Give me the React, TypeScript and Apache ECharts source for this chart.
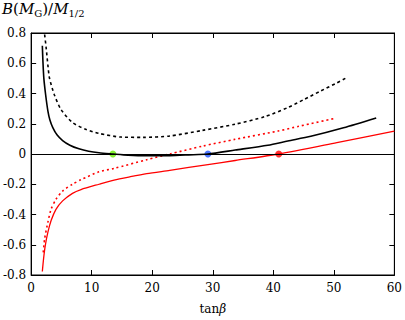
import React, { useEffect, useRef } from "react";
import * as echarts from "echarts";

// Solid black curve
const blackSolidX = [1.85, 1.95, 2.1, 2.4, 2.77, 3.1, 3.58, 4.3, 5.2, 6.4, 7.9, 9.5, 11.2, 13.5, 16, 19, 22.9, 26, 29.2, 33.7, 39.1, 42.4, 46.2, 51.6, 57];
const blackSolidY = [0.716, 0.61, 0.50, 0.39, 0.284, 0.225, 0.175, 0.125, 0.089, 0.058, 0.034, 0.018, 0.008, 0, -0.008, -0.012, -0.011, -0.006, 0, 0.026, 0.058, 0.086, 0.117, 0.173, 0.238];

// Dashed black curve
const blackDashX = [2.23, 2.5, 2.77, 3.04, 3.85, 4.94, 6.83, 9.0, 11.2, 14.8, 18.5, 22.9, 28.3, 33.7, 38.6, 42.4, 45.1, 47.8, 50.5, 51.9];
const blackDashY = [0.79, 0.695, 0.586, 0.50, 0.39, 0.294, 0.208, 0.164, 0.136, 0.112, 0.11, 0.119, 0.156, 0.197, 0.247, 0.307, 0.361, 0.416, 0.47, 0.50];

// Dotted red curve
const redDashX = [2.0, 2.23, 2.77, 3.3, 4.1, 5.2, 6.83, 8.24, 11.2, 13.7, 19.1, 22.9, 28.3, 33.7, 40.8, 44.2, 50.2];
const redDashY = [-0.65, -0.56, -0.45, -0.364, -0.30, -0.245, -0.20, -0.17, -0.118, -0.095, -0.038, 0.0, 0.052, 0.097, 0.152, 0.183, 0.236];

// Solid red curve
const redSolidX = [1.85, 2.06, 2.34, 2.77, 3.3, 4.1, 5.2, 6.83, 8.24, 11.2, 13.7, 16.4, 19.1, 22.9, 29.2, 33.7, 40.9, 50.5, 60];
const redSolidY = [-0.777, -0.69, -0.604, -0.517, -0.44, -0.366, -0.31, -0.26, -0.235, -0.2, -0.172, -0.15, -0.13, -0.108, -0.07, -0.043, 0, 0.075, 0.151];

// Marked points (zero crossings)
const pointX = [13.5, 29.2, 40.9];
const pointY = [0, 0, 0];
const pointColors = ["#66ee00", "#2255ff", "#ff0000"];

const xTicks = { min: 0, max: 60, interval: 10 };
const yTicks = { min: -0.8, max: 0.8, interval: 0.2 };

const FONT = "DejaVu Serif";

function zip(xs: number[], ys: number[]) {
  return xs.map((x, i) => [x, ys[i]]);
}

export default function App() {
  const ref = useRef<HTMLDivElement>(null);
  useEffect(() => {
    if (!ref.current) return;
    const chart = echarts.init(ref.current, null, { renderer: "svg" });
    const tickCommon = { show: true, inside: true, length: 5, lineStyle: { color: "#000", width: 1 } };
    const yFmt = (v: number) => {
      const r = Math.round(v * 10) / 10;
      if (r === 0) return "0";
      return r.toFixed(1);
    };
    chart.setOption({
      animation: false,
      backgroundColor: "#fff",
      grid: { left: 29, right: 7, top: 33, bottom: 41, show: true, borderColor: "#000", borderWidth: 1 },
      xAxis: [
        {
          type: "value", ...xTicks, position: "bottom",
          axisLine: { show: true, onZero: false, lineStyle: { color: "#000" } },
          axisTick: tickCommon,
          splitLine: { show: false },
          axisLabel: { color: "#000", fontFamily: FONT, fontSize: 12, margin: 7 },
          name: "{r|tan}{i|β}",
          nameLocation: "middle",
          nameGap: 28,
          nameTextStyle: {
            rich: {
              r: { fontFamily: FONT, fontSize: 12, color: "#000" },
              i: { fontFamily: FONT, fontSize: 12, fontStyle: "italic", color: "#000" },
            },
          },
        },
        {
          type: "value", ...xTicks, position: "top",
          axisLine: { show: true, onZero: false, lineStyle: { color: "#000" } },
          axisTick: tickCommon,
          splitLine: { show: false },
          axisLabel: { show: false },
        },
      ],
      yAxis: [
        {
          type: "value", ...yTicks, position: "left",
          axisLine: { show: true, onZero: false, lineStyle: { color: "#000" } },
          axisTick: tickCommon,
          splitLine: { show: false },
          axisLabel: { color: "#000", fontFamily: FONT, fontSize: 12, margin: 5, formatter: yFmt },
        },
        {
          type: "value", ...yTicks, position: "right",
          axisLine: { show: true, onZero: false, lineStyle: { color: "#000" } },
          axisTick: tickCommon,
          splitLine: { show: false },
          axisLabel: { show: false },
        },
      ],
      graphic: [
        {
          type: "text",
          left: 2,
          top: 1,
          style: {
            text: "{i|B}{r|(}{i|M}{s|G}{r|)/}{i|M}{s|1/2}",
            rich: {
              i: { fontFamily: FONT, fontSize: 15, fontStyle: "italic", fill: "#000", lineHeight: 20 },
              r: { fontFamily: FONT, fontSize: 15, fill: "#000", lineHeight: 20 },
              s: { fontFamily: FONT, fontSize: 10, fill: "#000", verticalAlign: "bottom", lineHeight: 12 },
            },
          },
        },
      ],
      series: [
        {
          type: "line", data: zip(redSolidX, redSolidY), showSymbol: false, smooth: 0.25,
          lineStyle: { color: "#ff0000", width: 1.3 }, clip: true,
          markLine: {
            silent: true, symbol: "none", label: { show: false },
            lineStyle: { color: "#000", width: 1, type: "solid" },
            data: [{ yAxis: 0 }],
          },
        },
        {
          type: "line", data: zip(redDashX, redDashY), showSymbol: false, smooth: 0.25,
          lineStyle: { color: "#ff0000", width: 1.6, type: [2, 3] }, clip: true,
        },
        {
          type: "line", data: zip(blackDashX, blackDashY), showSymbol: false, smooth: 0.25,
          lineStyle: { color: "#000", width: 1.6, type: [3, 3] }, clip: true,
        },
        {
          type: "line", data: zip(blackSolidX, blackSolidY), showSymbol: false, smooth: 0.25,
          lineStyle: { color: "#000", width: 1.6 }, clip: true,
        },
        {
          type: "scatter",
          symbolSize: 7,
          data: pointX.map((x, i) => ({ value: [x, pointY[i]], itemStyle: { color: pointColors[i] } })),
        },
      ],
    });
    return () => chart.dispose();
  }, []);
  return <div ref={ref} style={{ position: "fixed", left: 0, top: 0, width: 405, height: 320 }} />;
}
